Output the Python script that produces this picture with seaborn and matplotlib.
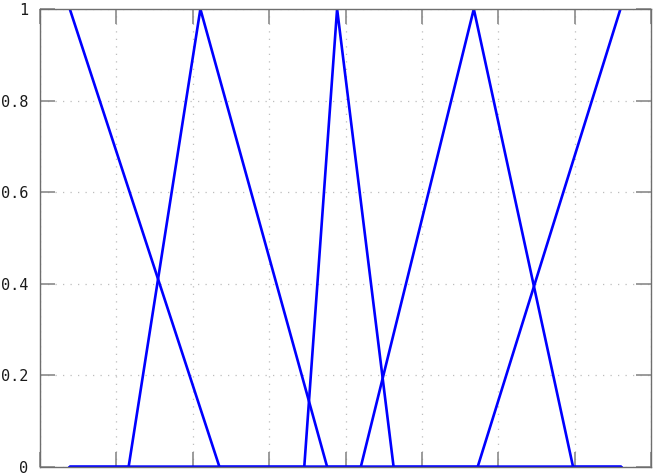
import matplotlib
matplotlib.use("Agg")
import matplotlib.pyplot as plt
import seaborn as sns
import pandas as pd

# Membership functions (breakpoints and degrees)
x_min, x_max = 0.39, 7.61
mf1_x = [x_min, 2.35, x_max]
mf1_y = [1, 0, 0]
mf2_x = [x_min, 1.16, 2.10, 3.76, x_max]
mf2_y = [0, 0, 1, 0, 0]
mf3_x = [x_min, 3.46, 3.89, 4.63, x_max]
mf3_y = [0, 0, 1, 0, 0]
mf4_x = [x_min, 4.20, 5.68, 6.98, x_max]
mf4_y = [0, 0, 1, 0, 0]
mf5_x = [x_min, 5.73, 7.60]
mf5_y = [0, 0, 1]

y_ticks = [0, 0.2, 0.4, 0.6, 0.8, 1]
y_tick_labels = ["0", "0.2", "0.4", "0.6", "0.8", "1"]
x_ticks = [0, 1, 2, 3, 4, 5, 6, 7, 8]

frames = []
for name, xs, ys in [("mf1", mf1_x, mf1_y), ("mf2", mf2_x, mf2_y),
                     ("mf3", mf3_x, mf3_y), ("mf4", mf4_x, mf4_y),
                     ("mf5", mf5_x, mf5_y)]:
    frames.append(pd.DataFrame({"x": xs, "y": ys, "mf": name, "order": range(len(xs))}))
df = pd.concat(frames, ignore_index=True)

sns.set_style("white")
fig = plt.figure(figsize=(6.54, 4.75), dpi=100)
ax = fig.add_axes([40/654, 8/475, 611/654, 458/475])

sns.lineplot(data=df, x="x", y="y", units="mf", estimator=None, sort=False,
             color="#0000ff", linewidth=1.9, ax=ax, legend=False)

ax.set_xlim(0, 8)
ax.set_ylim(0, 1)
ax.set_xticks(x_ticks)
ax.set_xticklabels([])
ax.set_yticks(y_ticks)
ax.set_yticklabels(y_tick_labels, family="DejaVu Sans Mono", fontsize=11, color="#1a1a1a")
ax.set_xlabel("")
ax.set_ylabel("")

ax.tick_params(axis="both", which="both", direction="in", length=11, width=1.2,
               color="#8a8a8a", top=True, right=True, bottom=True, left=True, pad=8.5)
ax.tick_params(axis="x", labelbottom=False)

ax.grid(True, color="#bdbdbd", linestyle=(0, (1, 5)), linewidth=0.9)
for s in ax.spines.values():
    s.set_color("#6e6e6e")
    s.set_linewidth(1.0)
    s.set_visible(True)

fig.savefig("out.png", dpi=100)
